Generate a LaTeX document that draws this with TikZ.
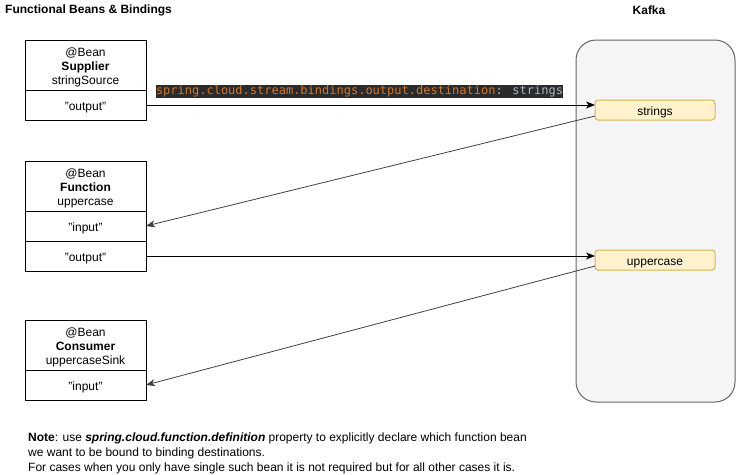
\documentclass[tikz,border=0pt]{standalone}
\usepackage{fontspec}
\setmainfont{Liberation Sans}
\newfontfamily\codefont{DejaVu Sans Mono}
\usetikzlibrary{arrows.meta,positioning,calc}
\definecolor{kfill}{HTML}{F5F5F5}
\definecolor{kdraw}{HTML}{666666}
\definecolor{tfill}{HTML}{FFF2CC}
\definecolor{tdraw}{HTML}{D6B656}
\definecolor{codebg}{HTML}{2B2B2B}
\definecolor{codeor}{HTML}{CC7832}
\definecolor{codegr}{HTML}{A9B7C6}
\tikzset{
  cell/.style={draw=black, line width=1pt, fill=white, minimum width=121pt, inner sep=0pt, outer sep=0pt, align=center, font=\fontsize{12}{14}\selectfont},
  headcell/.style={cell, minimum height=50pt},
  portcell/.style={cell, minimum height=30pt, text height=11pt, text depth=1pt},
  celltext/.style={inner sep=0pt, align=center, font=\fontsize{12}{14}\selectfont},
  topic/.style={draw=tdraw, fill=tfill, line width=1pt, rounded corners=3pt, minimum width=120pt, minimum height=20pt, inner sep=0pt, outer sep=0pt, text height=11pt, text depth=1pt, font=\fontsize{12}{14}\selectfont},
  cluster/.style={draw=kdraw, fill=kfill, line width=1pt, rounded corners=20pt, minimum width=159pt, minimum height=362pt, inner sep=0pt, outer sep=0pt},
  flow/.style={draw=black, line width=1pt, -{Stealth[length=9pt,width=7pt,inset=2.5pt]}},
  backflow/.style={draw=black!75, line width=0.8pt, -{Stealth[length=9pt,width=7pt,inset=2.5pt]}},
  title/.style={font=\bfseries\fontsize{12}{14}\selectfont, inner sep=0pt},
  codelabel/.style={fill=codebg, inner sep=0pt, minimum width=405pt, minimum height=13pt, text height=8.5pt, text depth=2.5pt, font=\codefont\fontsize{12}{13}\selectfont}
}
\begin{document}
\begin{tikzpicture}[x=1pt,y=-1pt]
\useasboundingbox (0,0) rectangle (736,474);
% titles
\node[title, anchor=west] (ltitle) at (5,10) {Functional Beans \& Bindings};
\node[title] (ktitle) at (649,10) {Kafka};
% Kafka cluster
\node[cluster] (kafka) at (655.5,221) {};
\node[topic] (strings) at (655,110) {strings};
\node[topic] (upper) at (655,260) {uppercase};
% Supplier
\node[headcell] (shead) at (85.5,65) {};
\node[celltext] (sheadtext) at ([yshift=-2pt]shead.center) {@Bean\\\textbf{Supplier}\\stringSource};
\node[portcell] (sout) at (85.5,105) {"output"};
% Function
\node[headcell] (fhead) at (85.5,186) {};
\node[celltext] (fheadtext) at ([yshift=-2pt]fhead.center) {@Bean\\\textbf{Function}\\uppercase};
\node[portcell] (fin) at (85.5,226) {"input"};
\node[portcell] (fout) at (85.5,256) {"output"};
% Consumer
\node[headcell] (chead) at (85.5,345) {};
\node[celltext] (cheadtext) at ([yshift=-2pt]chead.center) {@Bean\\\textbf{Consumer}\\uppercaseSink};
\node[portcell] (cin) at (85.5,385) {"input"};
% connectors
\draw[flow] (sout.east) -- (sout.east -| strings.west);
\node[codelabel] (code) at (359.5,91.5) {\textcolor{codeor}{spring.cloud.stream.bindings.output.destination}\textcolor{codegr}{: strings}};
\draw[backflow] ([yshift=-6pt]strings.west) -- (fin.east);
\draw[flow] (fout.east) -- (fout.east -| upper.west);
\draw[backflow] ([yshift=-6pt]upper.west) -- (cin.east);
% note
\node[anchor=north west, align=left, inner sep=0pt, font=\fontsize{12}{14.7}\selectfont] (note) at (28,433)
{\textbf{Note}: use \textbf{\textit{spring.cloud.function.definition}} property to explicitly declare which function bean\\
we want to be bound to binding destinations.\\
For cases when you only have single such bean it is not required but for all other cases it is.};
\end{tikzpicture}
\end{document}
